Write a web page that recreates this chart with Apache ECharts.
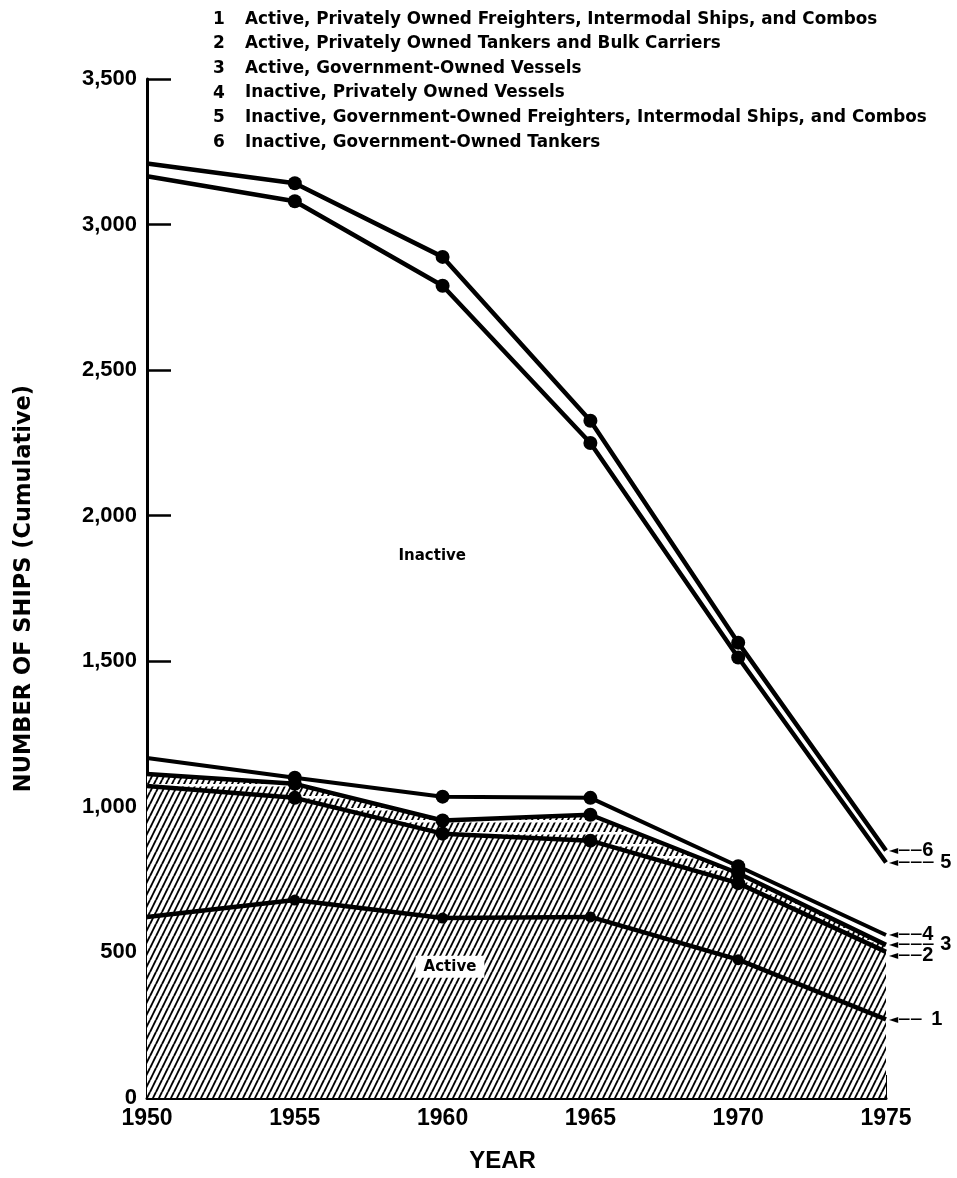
<!DOCTYPE html>
<html>
<head>
<meta charset="utf-8">
<script src="https://cdn.jsdelivr.net/npm/echarts@6/dist/echarts.min.js"></script>
<style>html,body{margin:0;padding:0;background:#fff;overflow:hidden;width:957px;height:1178px}#c{position:absolute;left:0;top:0;width:957px;height:1178px}</style>
</head>
<body>
<div id="c"></div>
<script>
const years = [1950, 1955, 1960, 1965, 1970, 1975];
// cumulative totals (number of ships)
const line1 = [622, 680, 618, 622, 475, 270];
const line2 = [1072, 1031, 908, 884, 738, 502];
const line3 = [1113, 1079, 953, 973, 772, 526];
const line4 = [1168, 1100, 1035, 1031, 796, 560];
const line5 = [3166, 3080, 2790, 2250, 1513, 809];
const line6 = [3210, 3142, 2889, 2326, 1564, 850];
const legendItems = [
  'Active, Privately Owned Freighters, Intermodal Ships, and Combos',
  'Active, Privately Owned Tankers and Bulk Carriers',
  'Active, Government-Owned Vessels',
  'Inactive, Privately Owned Vessels',
  'Inactive, Government-Owned Freighters, Intermodal Ships, and Combos',
  'Inactive, Government-Owned Tankers'
];
const yTicks = [0, 500, 1000, 1500, 2000, 2500, 3000, 3500];
const xTicks = [1950, 1955, 1960, 1965, 1970, 1975];

function makeHatch(dashed) {
  const c = document.createElement('canvas');
  c.width = 6; c.height = 12;
  const ctx = c.getContext('2d');
  ctx.fillStyle = '#fff'; ctx.fillRect(0, 0, 6, 12);
  ctx.strokeStyle = '#000'; ctx.lineWidth = 1.9;
  for (let k = -1; k <= 1; k++) {
    ctx.beginPath(); ctx.moveTo(k * 6, 12); ctx.lineTo(k * 6 + 6, 0); ctx.stroke();
  }
  if (dashed) {
    ctx.fillStyle = '#fff'; ctx.fillRect(0, 4, 6, 2.5);
  }
  return c;
}
const hatch = { image: makeHatch(false), repeat: 'repeat' };
const dashHatch = { image: makeHatch(true), repeat: 'repeat' };

const pts = arr => years.map((y, i) => [y, arr[i]]);
const endSym = (v, p) => (p.dataIndex === 0 || p.dataIndex === years.length - 1) ? 'none' : 'circle';
const FONT = 'Liberation Sans';
const SHORT = '\u25C4\u2014\u2014';
const LONG = '\u25C4\u2014\u2014\u2014';

function endLabel(tag, arrow, offset, pad) {
  return {
    show: true,
    distance: 3,
    offset: offset || [0, 0],
    formatter: '{a|' + arrow + '}{n|' + tag + '}',
    rich: {
      a: { fontFamily: 'DejaVu Sans', fontSize: 12, fontWeight: 'bold', color: '#000' },
      n: { fontFamily: FONT, fontSize: 20, fontWeight: 'bold', color: '#000', padding: [0, 0, 0, pad] }
    }
  };
}

function lineSeries(name, arr, label, extra) {
  return Object.assign({
    name: name,
    type: 'line',
    data: pts(arr),
    symbol: endSym,
    symbolSize: 14,
    showAllSymbol: true,
    lineStyle: { color: '#000', width: 4.5 },
    itemStyle: { color: '#000' },
    emphasis: { disabled: true },
    animation: false,
    endLabel: label
  }, extra || {});
}

const legendText = legendItems.map((t, i) => '{n|' + (i + 1) + '}{t|' + t + '}').join('\n');
const LFONT = 'DejaVu Sans';

const option = {
  backgroundColor: '#fff',
  animation: false,
  title: {
    text: legendText,
    left: 208, top: 2,
    textStyle: {
      fontFamily: LFONT, fontWeight: 'bold', fontSize: 17, color: '#000', lineHeight: 24.6,
      rich: {
        n: { width: 32, fontFamily: LFONT, fontWeight: 'bold', fontSize: 17, color: '#000', lineHeight: 24.6 },
        t: { fontFamily: LFONT, fontWeight: 'bold', fontSize: 16.8, color: '#000', lineHeight: 24.6 }
      }
    }
  },
  grid: { left: 147, right: 71, top: 79, bottom: 74, containLabel: false },
  xAxis: {
    type: 'value', min: xTicks[0], max: xTicks[xTicks.length - 1], interval: 5,
    name: 'YEAR', nameLocation: 'middle', nameGap: 51,
    nameTextStyle: { fontFamily: FONT, fontWeight: 'bold', fontSize: 24, color: '#000', padding: [0, 28, 0, 0] },
    axisLine: { show: true, lineStyle: { color: '#000', width: 3 } },
    axisTick: { show: true, inside: true, length: 23, lineStyle: { color: '#000', width: 2 } },
    axisLabel: { margin: 9, fontFamily: FONT, fontWeight: 'bold', fontSize: 23, color: '#000', formatter: v => String(v) },
    splitLine: { show: false }
  },
  yAxis: {
    type: 'value', min: yTicks[0], max: yTicks[yTicks.length - 1], interval: 500,
    name: 'NUMBER OF SHIPS (Cumulative)', nameLocation: 'middle', nameGap: 111, nameRotate: 90,
    nameTextStyle: { fontFamily: 'DejaVu Sans', fontWeight: 'bold', fontSize: 22.5, color: '#000' },
    axisLine: { show: true, lineStyle: { color: '#000', width: 3 } },
    axisTick: { show: true, inside: true, length: 24, lineStyle: { color: '#000', width: 2.5 } },
    axisLabel: { margin: 10, fontFamily: FONT, fontWeight: 'bold', fontSize: 22, color: '#000',
      formatter: v => v.toLocaleString('en-US') },
    splitLine: { show: false }
  },
  series: [
    lineSeries(legendItems[2], line3, endLabel('3', LONG, [0, 0], 6), { areaStyle: { color: dashHatch, opacity: 1 }, z: 2 }),
    lineSeries(legendItems[1], line2, endLabel('2', SHORT, [0, 4], 0), { areaStyle: { color: hatch, opacity: 1 }, z: 3 }),
    lineSeries(legendItems[0], line1, endLabel('1', SHORT, [0, 0], 9), { z: 4, symbolSize: 11,
      markPoint: {
        symbol: 'rect', symbolSize: 1, itemStyle: { color: 'rgba(0,0,0,0)' },
        label: { show: true, position: 'inside', formatter: p => p.name, fontFamily: 'DejaVu Sans', fontWeight: 'bold', fontSize: 15, color: '#000' },
        data: [
          { name: 'Active', coord: [1960.25, 451],
            label: { backgroundColor: '#fff', padding: [4, 8, 3, 8] } },
          { name: 'Inactive', coord: [1959.65, 1860] }
        ]
      } }),
    lineSeries(legendItems[3], line4, endLabel('4', SHORT, [0, 0], 0), { z: 5, lineStyle: { color: '#000', width: 4 } }),
    lineSeries(legendItems[4], line5, endLabel('5', LONG, [0, 0], 6), { z: 5 }),
    lineSeries(legendItems[5], line6, endLabel('6', SHORT, [0, 0], 0), { z: 5 })
  ]
};
const chart = echarts.init(document.getElementById('c'), null, { renderer: 'canvas', width: 957, height: 1178 });
chart.setOption(option);
</script>
</body>
</html>
